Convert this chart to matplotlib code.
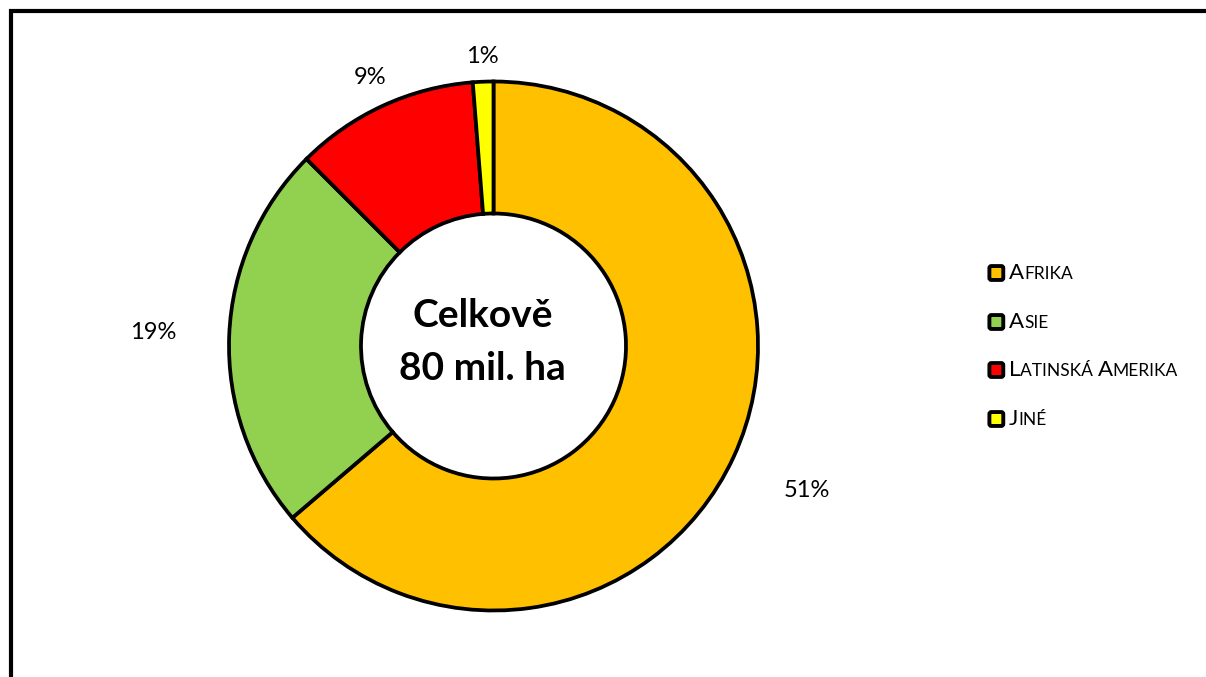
import numpy as np
import matplotlib
matplotlib.use("Agg")
import matplotlib.pyplot as plt
from matplotlib.patches import Rectangle, FancyBboxPatch
from matplotlib.offsetbox import TextArea, HPacker, DrawingArea, AnchoredOffsetbox

plt.rcParams["font.family"] = ["Lato", "DejaVu Sans"]

CATEGORIES = ["Afrika", "Asie", "Latinská Amerika", "Jiné"]
VALUES = [51, 19, 9, 1]  # mil. ha, shown with a "%" sign as in the original
COLORS = ["#FFC000", "#92D050", "#FF0000", "#FFFF00"]
CENTER_TEXT = ["Celkově", "80 mil. ha"]
LABEL_RADIUS = [345, 341, 296, 290]

W, H = 1206, 677
fig = plt.figure(figsize=(W / 100, H / 100), dpi=100)

# axes where one data unit is one pixel, donut centre at (493, 346)
cx, cy, half = 493.5, 346, 330
ax = fig.add_axes([(cx - half) / W, 1 - (cy + half) / H, 2 * half / W, 2 * half / H])
R = 264.5
wedges, _ = ax.pie(VALUES, colors=COLORS, startangle=90, counterclock=False, radius=R,
                   wedgeprops=dict(width=132, edgecolor="black", linewidth=2.7))
ax.set_xlim(-half, half)
ax.set_ylim(-half, half)
ax.set_aspect("equal")
ax.axis("off")

for w, v, r in zip(wedges, VALUES, LABEL_RADIUS):
    mid = np.deg2rad((w.theta1 + w.theta2) / 2)
    ax.text(r * np.cos(mid), r * np.sin(mid), f"{v}%", ha="center", va="center", fontsize=17)

ax.text(-11, 19, CENTER_TEXT[0], ha="center", va="baseline", fontsize=28, fontweight="bold")
ax.text(-11, -34, CENTER_TEXT[1], ha="center", va="baseline", fontsize=28, fontweight="bold")


def small_caps(label, big=16, small=12.5):
    pieces = []
    words = label.split(" ")
    for i, word in enumerate(words):
        pieces.append(TextArea(word[0].upper(), textprops=dict(size=big)))
        rest = word[1:].upper()
        if i < len(words) - 1:
            rest += " "
        if rest:
            pieces.append(TextArea(rest, textprops=dict(size=small)))
    return HPacker(children=pieces, align="baseline", pad=0, sep=0)


row_y = [273, 322, 370, 419]
for name, col, y in zip(CATEGORIES, COLORS, row_y):
    da = DrawingArea(12, 12, 0, 0)
    da.add_artist(FancyBboxPatch((1.0, 1.0), 10, 10, boxstyle="round,pad=0,rounding_size=1.5",
                                 fc=col, ec="black", lw=2.8))
    row = HPacker(children=[da, small_caps(name)], align="center", pad=0, sep=3)
    box = AnchoredOffsetbox(loc="center left", child=row, pad=0, borderpad=0, frameon=False,
                            bbox_to_anchor=(988 / W, 1 - y / H), bbox_transform=fig.transFigure)
    fig.add_artist(box)

# outer frame, cut off at right and bottom like the source
fig.add_artist(Rectangle((10.5 / W, -0.2), 1.3, 1 - 11 / H + 0.2, transform=fig.transFigure,
                         fill=False, ec="black", lw=3))

fig.savefig("out.png", dpi=100)
